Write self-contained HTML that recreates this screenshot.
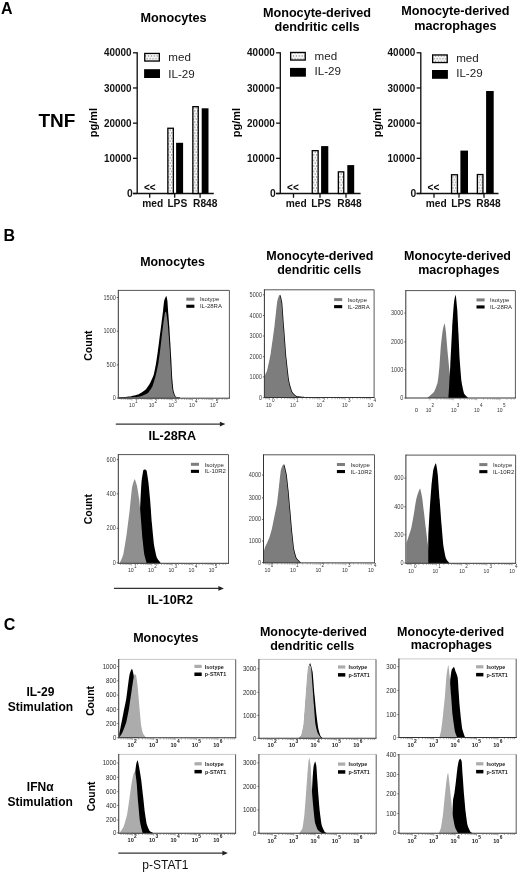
<!DOCTYPE html>
<html><head><meta charset="utf-8"><title>Figure</title>
<style>
html,body{margin:0;padding:0;background:#fff;overflow:hidden;width:520px;height:873px;}
svg{display:block;font-family:"Liberation Sans", Arial, sans-serif;}
</style></head>
<body>
<svg width="520" height="873" viewBox="0 0 520 873">
<defs>
<pattern id="dots" patternUnits="userSpaceOnUse" width="2.9" height="5.5">
<rect width="2.9" height="5.5" fill="#fbfbfb"/>
<circle cx="0.6" cy="0.9" r="0.62" fill="#5a5a5a"/>
<circle cx="2.05" cy="3.65" r="0.62" fill="#5a5a5a"/>
</pattern>
</defs>
<rect width="520" height="873" fill="#fff"/>
<text x="1" y="13.8" font-size="16" font-weight="bold" text-anchor="start" fill="#000" >A</text>
<text x="3.5" y="241.4" font-size="16" font-weight="bold" text-anchor="start" fill="#000" >B</text>
<text x="3.8" y="629.5" font-size="16" font-weight="bold" text-anchor="start" fill="#000" >C</text>
<text x="38.5" y="126.9" font-size="19" font-weight="bold" text-anchor="start" fill="#000" >TNF</text>
<text x="173.6" y="22.2" font-size="12.65" font-weight="bold" text-anchor="middle" fill="#000" >Monocytes</text>
<text transform="translate(96.99999999999999,122.5) rotate(-90)" font-size="11" font-weight="bold" text-anchor="middle">pg/ml</text>
<line x1="137.2" y1="52.199999999999996" x2="137.2" y2="194.1" stroke="#111" stroke-width="1.35"/>
<line x1="133.0" y1="193.5" x2="137.2" y2="193.5" stroke="#111" stroke-width="1.3"/>
<text x="126.90" y="197.10" font-size="10.3" font-weight="bold" fill="#111">0</text>
<line x1="133.0" y1="158.325" x2="137.2" y2="158.325" stroke="#111" stroke-width="1.3"/>
<text x="104.00" y="161.92" font-size="10.3" font-weight="bold" textLength="27.6" lengthAdjust="spacingAndGlyphs" fill="#111">10000</text>
<line x1="133.0" y1="123.15" x2="137.2" y2="123.15" stroke="#111" stroke-width="1.3"/>
<text x="104.00" y="126.75" font-size="10.3" font-weight="bold" textLength="27.6" lengthAdjust="spacingAndGlyphs" fill="#111">20000</text>
<line x1="133.0" y1="87.975" x2="137.2" y2="87.975" stroke="#111" stroke-width="1.3"/>
<text x="104.00" y="91.57" font-size="10.3" font-weight="bold" textLength="27.6" lengthAdjust="spacingAndGlyphs" fill="#111">30000</text>
<line x1="133.0" y1="52.80000000000001" x2="137.2" y2="52.80000000000001" stroke="#111" stroke-width="1.3"/>
<text x="104.00" y="56.40" font-size="10.3" font-weight="bold" textLength="27.6" lengthAdjust="spacingAndGlyphs" fill="#111">40000</text>
<line x1="133.0" y1="193.5" x2="213.8" y2="193.5" stroke="#111" stroke-width="1.3"/>
<line x1="149.7" y1="193.5" x2="149.7" y2="197.8" stroke="#111" stroke-width="1.3"/>
<text x="142.2" y="207.1" font-size="10.2" font-weight="bold" text-anchor="start" fill="#111" >med</text>
<line x1="174.7" y1="193.5" x2="174.7" y2="197.8" stroke="#111" stroke-width="1.3"/>
<text x="167.4" y="207.1" font-size="10.2" font-weight="bold" text-anchor="start" fill="#111" >LPS</text>
<line x1="200.1" y1="193.5" x2="200.1" y2="197.8" stroke="#111" stroke-width="1.3"/>
<text x="193.1" y="207.1" font-size="10.2" font-weight="bold" text-anchor="start" fill="#111" >R848</text>
<text x="149.79999999999998" y="191.2" font-size="10" font-weight="bold" text-anchor="middle" fill="#000" >&lt;&lt;</text>
<rect x="167.85" y="128.25" width="5.50" height="65.25" fill="url(#dots)" stroke="#000" stroke-width="1.3"/>
<rect x="176.10" y="142.80" width="7.00" height="50.70" fill="#000" stroke="none" stroke-width="0"/>
<rect x="192.85" y="106.65" width="5.40" height="86.85" fill="url(#dots)" stroke="#000" stroke-width="1.3"/>
<rect x="201.70" y="108.30" width="6.80" height="85.20" fill="#000" stroke="none" stroke-width="0"/>
<rect x="144.75" y="53.45" width="14.6" height="7.6" fill="url(#dots)" stroke="#000" stroke-width="1.3"/>
<rect x="144.10" y="69.2" width="15.9" height="8.8" fill="#000" stroke="none" stroke-width="0"/>
<text x="168.3" y="60.7" font-size="11.6" font-weight="normal" text-anchor="start" fill="#222" >med</text>
<text x="168.3" y="77.6" font-size="11.6" font-weight="normal" text-anchor="start" fill="#222" >IL-29</text>
<text x="317.0" y="16.8" font-size="12.65" font-weight="bold" text-anchor="middle" fill="#000" >Monocyte-derived</text>
<text x="317.0" y="31.0" font-size="12.65" font-weight="bold" text-anchor="middle" fill="#000" >dendritic cells</text>
<text transform="translate(240.10000000000002,122.5) rotate(-90)" font-size="11" font-weight="bold" text-anchor="middle">pg/ml</text>
<line x1="280.3" y1="52.199999999999996" x2="280.3" y2="194.1" stroke="#111" stroke-width="1.35"/>
<line x1="276.1" y1="193.5" x2="280.3" y2="193.5" stroke="#111" stroke-width="1.3"/>
<text x="270.00" y="197.10" font-size="10.3" font-weight="bold" fill="#111">0</text>
<line x1="276.1" y1="158.325" x2="280.3" y2="158.325" stroke="#111" stroke-width="1.3"/>
<text x="247.10" y="161.92" font-size="10.3" font-weight="bold" textLength="27.6" lengthAdjust="spacingAndGlyphs" fill="#111">10000</text>
<line x1="276.1" y1="123.15" x2="280.3" y2="123.15" stroke="#111" stroke-width="1.3"/>
<text x="247.10" y="126.75" font-size="10.3" font-weight="bold" textLength="27.6" lengthAdjust="spacingAndGlyphs" fill="#111">20000</text>
<line x1="276.1" y1="87.975" x2="280.3" y2="87.975" stroke="#111" stroke-width="1.3"/>
<text x="247.10" y="91.57" font-size="10.3" font-weight="bold" textLength="27.6" lengthAdjust="spacingAndGlyphs" fill="#111">30000</text>
<line x1="276.1" y1="52.80000000000001" x2="280.3" y2="52.80000000000001" stroke="#111" stroke-width="1.3"/>
<text x="247.10" y="56.40" font-size="10.3" font-weight="bold" textLength="27.6" lengthAdjust="spacingAndGlyphs" fill="#111">40000</text>
<line x1="276.1" y1="193.5" x2="360.6" y2="193.5" stroke="#111" stroke-width="1.3"/>
<line x1="293.5" y1="193.5" x2="293.5" y2="197.8" stroke="#111" stroke-width="1.3"/>
<text x="285.8" y="207.1" font-size="10.2" font-weight="bold" text-anchor="start" fill="#111" >med</text>
<line x1="320.0" y1="193.5" x2="320.0" y2="197.8" stroke="#111" stroke-width="1.3"/>
<text x="311.3" y="207.1" font-size="10.2" font-weight="bold" text-anchor="start" fill="#111" >LPS</text>
<line x1="346.0" y1="193.5" x2="346.0" y2="197.8" stroke="#111" stroke-width="1.3"/>
<text x="337.3" y="207.1" font-size="10.2" font-weight="bold" text-anchor="start" fill="#111" >R848</text>
<text x="292.90000000000003" y="191.2" font-size="10" font-weight="bold" text-anchor="middle" fill="#000" >&lt;&lt;</text>
<rect x="312.25" y="150.65" width="5.90" height="42.85" fill="url(#dots)" stroke="#000" stroke-width="1.3"/>
<rect x="321.10" y="146.10" width="7.20" height="47.40" fill="#000" stroke="none" stroke-width="0"/>
<rect x="338.35" y="171.85" width="5.40" height="21.65" fill="url(#dots)" stroke="#000" stroke-width="1.3"/>
<rect x="347.30" y="165.10" width="6.90" height="28.40" fill="#000" stroke="none" stroke-width="0"/>
<rect x="290.65" y="52.45" width="14.6" height="7.6" fill="url(#dots)" stroke="#000" stroke-width="1.3"/>
<rect x="290.00" y="67.9" width="15.9" height="8.8" fill="#000" stroke="none" stroke-width="0"/>
<text x="314.6" y="59.6" font-size="11.6" font-weight="normal" text-anchor="start" fill="#222" >med</text>
<text x="314.6" y="75.4" font-size="11.6" font-weight="normal" text-anchor="start" fill="#222" >IL-29</text>
<text x="455.4" y="15.4" font-size="12.65" font-weight="bold" text-anchor="middle" fill="#000" >Monocyte-derived</text>
<text x="455.4" y="29.6" font-size="12.65" font-weight="bold" text-anchor="middle" fill="#000" >macrophages</text>
<text transform="translate(380.6,122.5) rotate(-90)" font-size="11" font-weight="bold" text-anchor="middle">pg/ml</text>
<line x1="420.8" y1="52.199999999999996" x2="420.8" y2="194.1" stroke="#111" stroke-width="1.35"/>
<line x1="416.6" y1="193.5" x2="420.8" y2="193.5" stroke="#111" stroke-width="1.3"/>
<text x="410.50" y="197.10" font-size="10.3" font-weight="bold" fill="#111">0</text>
<line x1="416.6" y1="158.325" x2="420.8" y2="158.325" stroke="#111" stroke-width="1.3"/>
<text x="387.60" y="161.92" font-size="10.3" font-weight="bold" textLength="27.6" lengthAdjust="spacingAndGlyphs" fill="#111">10000</text>
<line x1="416.6" y1="123.15" x2="420.8" y2="123.15" stroke="#111" stroke-width="1.3"/>
<text x="387.60" y="126.75" font-size="10.3" font-weight="bold" textLength="27.6" lengthAdjust="spacingAndGlyphs" fill="#111">20000</text>
<line x1="416.6" y1="87.975" x2="420.8" y2="87.975" stroke="#111" stroke-width="1.3"/>
<text x="387.60" y="91.57" font-size="10.3" font-weight="bold" textLength="27.6" lengthAdjust="spacingAndGlyphs" fill="#111">30000</text>
<line x1="416.6" y1="52.80000000000001" x2="420.8" y2="52.80000000000001" stroke="#111" stroke-width="1.3"/>
<text x="387.60" y="56.40" font-size="10.3" font-weight="bold" textLength="27.6" lengthAdjust="spacingAndGlyphs" fill="#111">40000</text>
<line x1="416.6" y1="193.5" x2="498.5" y2="193.5" stroke="#111" stroke-width="1.3"/>
<line x1="434.0" y1="193.5" x2="434.0" y2="197.8" stroke="#111" stroke-width="1.3"/>
<text x="425.8" y="207.1" font-size="10.2" font-weight="bold" text-anchor="start" fill="#111" >med</text>
<line x1="459.0" y1="193.5" x2="459.0" y2="197.8" stroke="#111" stroke-width="1.3"/>
<text x="451.3" y="207.1" font-size="10.2" font-weight="bold" text-anchor="start" fill="#111" >LPS</text>
<line x1="484.0" y1="193.5" x2="484.0" y2="197.8" stroke="#111" stroke-width="1.3"/>
<text x="476.3" y="207.1" font-size="10.2" font-weight="bold" text-anchor="start" fill="#111" >R848</text>
<text x="433.40000000000003" y="191.2" font-size="10" font-weight="bold" text-anchor="middle" fill="#000" >&lt;&lt;</text>
<rect x="451.55" y="174.75" width="5.90" height="18.75" fill="url(#dots)" stroke="#000" stroke-width="1.3"/>
<rect x="460.40" y="150.60" width="7.60" height="42.90" fill="#000" stroke="none" stroke-width="0"/>
<rect x="477.35" y="174.55" width="5.60" height="18.95" fill="url(#dots)" stroke="#000" stroke-width="1.3"/>
<rect x="486.10" y="91.00" width="7.60" height="102.50" fill="#000" stroke="none" stroke-width="0"/>
<rect x="432.65" y="54.95" width="14.6" height="7.6" fill="url(#dots)" stroke="#000" stroke-width="1.3"/>
<rect x="432.00" y="70.0" width="15.9" height="8.8" fill="#000" stroke="none" stroke-width="0"/>
<text x="456.2" y="61.6" font-size="11.6" font-weight="normal" text-anchor="start" fill="#222" >med</text>
<text x="456.2" y="77.4" font-size="11.6" font-weight="normal" text-anchor="start" fill="#222" >IL-29</text>
<text x="172.5" y="265.8" font-size="12.4" font-weight="bold" text-anchor="middle" fill="#000" >Monocytes</text>
<text x="319.8" y="259.6" font-size="12.5" font-weight="bold" text-anchor="middle" fill="#000" >Monocyte-derived</text>
<text x="319.2" y="273.8" font-size="12.5" font-weight="bold" text-anchor="middle" fill="#000" >dendritic cells</text>
<text x="457.5" y="260.0" font-size="12.5" font-weight="bold" text-anchor="middle" fill="#000" >Monocyte-derived</text>
<text x="458.8" y="273.8" font-size="12.5" font-weight="bold" text-anchor="middle" fill="#000" >macrophages</text>
<path d="M119.00,398.20 L119.00,397.40 C119.88,397.32 127.85,396.77 129.50,396.50 C131.15,396.23 137.45,394.77 138.80,394.20 C140.15,393.62 144.74,390.56 145.70,389.60 C146.66,388.64 149.62,383.95 150.30,382.70 C150.98,381.45 153.32,376.24 153.80,374.60 C154.28,372.96 155.77,364.93 156.10,363.00 C156.43,361.07 157.53,353.42 157.80,351.50 C158.07,349.58 158.99,342.35 159.30,340.00 C159.61,337.65 161.18,325.77 161.50,323.30 C161.82,320.83 162.88,312.27 163.10,310.40 C163.32,308.52 163.93,302.00 164.20,300.80 C164.47,299.60 166.03,296.00 166.30,296.00 C166.57,296.00 167.23,299.33 167.40,300.80 C167.57,302.27 168.14,311.46 168.30,313.60 C168.46,315.74 169.13,324.09 169.30,326.50 C169.47,328.91 170.14,339.88 170.30,342.50 C170.46,345.12 171.02,354.88 171.20,358.00 C171.38,361.12 172.20,377.25 172.40,380.00 C172.60,382.75 173.32,389.62 173.60,391.00 C173.88,392.38 175.17,395.95 175.70,396.50 C176.23,397.05 179.64,397.51 180.00,397.60 L180.00,398.20 Z" fill="#000" stroke="none" stroke-width="0" stroke-linejoin="round"/>
<path d="M119.00,398.20 L119.00,397.80 C120.33,397.73 133.17,397.13 135.00,397.00 C136.83,396.87 139.92,396.53 141.00,396.20 C142.08,395.87 147.03,393.85 148.00,393.00 C148.97,392.15 151.93,387.53 152.60,386.00 C153.27,384.47 155.52,376.52 156.00,374.60 C156.48,372.68 158.07,364.93 158.40,363.00 C158.73,361.07 159.73,353.58 160.00,351.50 C160.27,349.42 161.32,340.35 161.60,338.00 C161.88,335.65 163.13,325.34 163.40,323.30 C163.67,321.26 164.63,314.47 164.80,313.50 C164.97,312.53 165.28,311.74 165.40,311.70 C165.53,311.66 166.12,312.14 166.30,313.00 C166.48,313.86 167.39,320.08 167.60,322.00 C167.81,323.92 168.62,333.67 168.80,336.00 C168.98,338.33 169.64,347.50 169.80,350.00 C169.96,352.50 170.53,363.17 170.70,366.00 C170.87,368.83 171.61,381.83 171.80,384.00 C171.99,386.17 172.73,390.96 173.00,392.00 C173.27,393.04 174.50,396.02 175.00,396.50 C175.50,396.98 178.67,397.69 179.00,397.80 L179.00,398.20 Z" fill="#7d7d7d" stroke="none" stroke-width="0" stroke-linejoin="round"/>
<line x1="118.3" y1="290.4" x2="229.4" y2="290.4" stroke="#555" stroke-width="1"/>
<line x1="229.4" y1="290.4" x2="229.4" y2="398.2" stroke="#5a5a5a" stroke-width="1"/>
<line x1="118.3" y1="289.9" x2="118.3" y2="398.7" stroke="#333" stroke-width="1"/>
<line x1="118.3" y1="398.2" x2="229.9" y2="398.2" stroke="#333" stroke-width="1"/>
<text x="115.90" y="299.50" font-size="6.7" font-weight="normal" fill="#404040" text-anchor="end" textLength="12.40" lengthAdjust="spacingAndGlyphs">1500</text>
<line x1="116.8" y1="297.5" x2="118.3" y2="297.5" stroke="#444" stroke-width="0.8"/>
<text x="115.90" y="333.20" font-size="6.7" font-weight="normal" fill="#404040" text-anchor="end" textLength="12.40" lengthAdjust="spacingAndGlyphs">1000</text>
<line x1="116.8" y1="331.2" x2="118.3" y2="331.2" stroke="#444" stroke-width="0.8"/>
<text x="115.90" y="366.90" font-size="6.7" font-weight="normal" fill="#404040" text-anchor="end" textLength="9.30" lengthAdjust="spacingAndGlyphs">500</text>
<line x1="116.8" y1="364.9" x2="118.3" y2="364.9" stroke="#444" stroke-width="0.8"/>
<text x="115.90" y="400.10" font-size="6.7" font-weight="normal" fill="#404040" text-anchor="end" textLength="3.10" lengthAdjust="spacingAndGlyphs">0</text>
<line x1="116.8" y1="398.1" x2="118.3" y2="398.1" stroke="#444" stroke-width="0.8"/>
<rect x="186.3" y="297.7" width="8.1" height="3.0" fill="#7d7d7d" stroke="none" stroke-width="0"/>
<text x="199.9" y="301.4" font-size="6.0" font-weight="normal" text-anchor="start" fill="#2a2a2a" >Isotype</text>
<rect x="186.3" y="304.7" width="8.1" height="3.1" fill="#000" stroke="none" stroke-width="0"/>
<text x="199.9" y="308.3" font-size="6.0" font-weight="normal" text-anchor="start" fill="#2a2a2a" >IL-28RA</text>
<path d="M121.34,398.7v1.2 M123.86,398.7v1.2 M125.82,398.7v1.2 M127.42,398.7v1.2 M128.77,398.7v1.2 M129.94,398.7v1.2 M130.98,398.7v1.2 M131.90,398.7v1.8 M137.98,398.7v1.2 M141.54,398.7v1.2 M144.06,398.7v1.2 M146.02,398.7v1.2 M147.62,398.7v1.2 M148.97,398.7v1.2 M150.14,398.7v1.2 M151.18,398.7v1.2 M152.10,398.7v1.8 M158.18,398.7v1.2 M161.74,398.7v1.2 M164.26,398.7v1.2 M166.22,398.7v1.2 M167.82,398.7v1.2 M169.17,398.7v1.2 M170.34,398.7v1.2 M171.38,398.7v1.2 M172.30,398.7v1.8 M178.38,398.7v1.2 M181.94,398.7v1.2 M184.46,398.7v1.2 M186.42,398.7v1.2 M188.02,398.7v1.2 M189.37,398.7v1.2 M190.54,398.7v1.2 M191.58,398.7v1.2 M192.50,398.7v1.8 M198.58,398.7v1.2 M202.14,398.7v1.2 M204.66,398.7v1.2 M206.62,398.7v1.2 M208.22,398.7v1.2 M209.57,398.7v1.2 M210.74,398.7v1.2 M211.78,398.7v1.2 M212.70,398.7v1.8 M218.78,398.7v1.2 M222.34,398.7v1.2 M224.86,398.7v1.2 M226.82,398.7v1.2" stroke="#777" stroke-width="0.6" fill="none"/>
<text x="129.10" y="407.2" font-size="6.0" font-weight="normal" fill="#333" textLength="5.6" lengthAdjust="spacingAndGlyphs">10</text>
<text x="135.00" y="402.70" font-size="4.60" font-weight="normal" fill="#333">1</text>
<text x="148.70" y="407.2" font-size="6.0" font-weight="normal" fill="#333" textLength="5.6" lengthAdjust="spacingAndGlyphs">10</text>
<text x="154.60" y="402.70" font-size="4.60" font-weight="normal" fill="#333">2</text>
<text x="168.40" y="407.2" font-size="6.0" font-weight="normal" fill="#333" textLength="5.6" lengthAdjust="spacingAndGlyphs">10</text>
<text x="174.30" y="402.70" font-size="4.60" font-weight="normal" fill="#333">3</text>
<text x="189.10" y="407.2" font-size="6.0" font-weight="normal" fill="#333" textLength="5.6" lengthAdjust="spacingAndGlyphs">10</text>
<text x="195.00" y="402.70" font-size="4.60" font-weight="normal" fill="#333">4</text>
<text x="209.90" y="407.2" font-size="6.0" font-weight="normal" fill="#333" textLength="5.6" lengthAdjust="spacingAndGlyphs">10</text>
<text x="215.80" y="402.70" font-size="4.60" font-weight="normal" fill="#333">5</text>
<text transform="translate(91.9,345.6) rotate(-90)" font-size="10.5" font-weight="bold" text-anchor="middle">Count</text>
<line x1="115.8" y1="424.1" x2="220.4" y2="424.1" stroke="#333" stroke-width="1.3"/>
<path d="M219.9,421.70000000000005 L225.4,424.1 L219.9,426.5 Z" fill="#222"/>
<text x="172.2" y="439.9" font-size="12.6" font-weight="bold" text-anchor="middle" fill="#000" >IL-28RA</text>
<path d="M265.30,397.50 L265.30,377.70 C265.38,377.32 266.10,373.78 266.30,373.20 C266.50,372.62 267.27,372.41 267.70,370.70 C268.13,368.99 270.87,356.51 271.50,352.70 C272.13,348.89 274.78,329.20 275.30,325.00 C275.82,320.80 277.40,304.82 277.80,302.30 C278.20,299.78 279.73,294.70 280.10,294.70 C280.47,294.70 281.87,299.57 282.20,302.30 C282.53,305.03 283.73,322.77 284.10,327.50 C284.47,332.23 286.18,354.59 286.60,359.00 C287.02,363.41 288.62,377.67 289.10,380.40 C289.57,383.12 291.67,390.39 292.30,391.70 C292.93,393.01 295.70,395.66 296.70,396.10 C297.70,396.54 303.67,396.93 304.30,397.00 L304.30,397.50 Z" fill="#000" stroke="none" stroke-width="0" stroke-linejoin="round"/>
<path d="M264.60,397.50 L264.60,378.00 C264.68,377.62 265.40,374.08 265.60,373.50 C265.80,372.92 266.57,372.71 267.00,371.00 C267.43,369.29 270.17,356.81 270.80,353.00 C271.43,349.19 274.08,329.50 274.60,325.30 C275.12,321.10 276.70,305.12 277.10,302.60 C277.50,300.08 279.03,295.00 279.40,295.00 C279.77,295.00 281.17,299.87 281.50,302.60 C281.83,305.33 283.03,323.07 283.40,327.80 C283.77,332.53 285.48,354.89 285.90,359.30 C286.32,363.71 287.92,377.97 288.40,380.70 C288.88,383.43 290.97,390.69 291.60,392.00 C292.23,393.31 295.00,395.96 296.00,396.40 C297.00,396.84 302.97,397.23 303.60,397.30 L303.60,397.50 Z" fill="#7d7d7d" stroke="none" stroke-width="0" stroke-linejoin="round"/>
<line x1="264.4" y1="289.8" x2="374.1" y2="289.8" stroke="#555" stroke-width="1"/>
<line x1="374.1" y1="289.8" x2="374.1" y2="397.5" stroke="#5a5a5a" stroke-width="1"/>
<line x1="264.4" y1="289.3" x2="264.4" y2="398.0" stroke="#333" stroke-width="1"/>
<line x1="264.4" y1="397.5" x2="374.6" y2="397.5" stroke="#333" stroke-width="1"/>
<text x="262.00" y="296.80" font-size="6.7" font-weight="normal" fill="#404040" text-anchor="end" textLength="12.40" lengthAdjust="spacingAndGlyphs">5000</text>
<line x1="262.9" y1="294.8" x2="264.4" y2="294.8" stroke="#444" stroke-width="0.8"/>
<text x="262.00" y="317.50" font-size="6.7" font-weight="normal" fill="#404040" text-anchor="end" textLength="12.40" lengthAdjust="spacingAndGlyphs">4000</text>
<line x1="262.9" y1="315.5" x2="264.4" y2="315.5" stroke="#444" stroke-width="0.8"/>
<text x="262.00" y="338.00" font-size="6.7" font-weight="normal" fill="#404040" text-anchor="end" textLength="12.40" lengthAdjust="spacingAndGlyphs">3000</text>
<line x1="262.9" y1="336.0" x2="264.4" y2="336.0" stroke="#444" stroke-width="0.8"/>
<text x="262.00" y="358.70" font-size="6.7" font-weight="normal" fill="#404040" text-anchor="end" textLength="12.40" lengthAdjust="spacingAndGlyphs">2000</text>
<line x1="262.9" y1="356.7" x2="264.4" y2="356.7" stroke="#444" stroke-width="0.8"/>
<text x="262.00" y="378.90" font-size="6.7" font-weight="normal" fill="#404040" text-anchor="end" textLength="12.40" lengthAdjust="spacingAndGlyphs">1000</text>
<line x1="262.9" y1="376.9" x2="264.4" y2="376.9" stroke="#444" stroke-width="0.8"/>
<text x="262.00" y="399.70" font-size="6.7" font-weight="normal" fill="#404040" text-anchor="end" textLength="3.10" lengthAdjust="spacingAndGlyphs">0</text>
<line x1="262.9" y1="397.7" x2="264.4" y2="397.7" stroke="#444" stroke-width="0.8"/>
<rect x="334.1" y="298.1" width="8.1" height="3.0" fill="#7d7d7d" stroke="none" stroke-width="0"/>
<text x="347.70000000000005" y="301.8" font-size="6.0" font-weight="normal" text-anchor="start" fill="#2a2a2a" >Isotype</text>
<rect x="334.1" y="305.1" width="8.1" height="3.1" fill="#000" stroke="none" stroke-width="0"/>
<text x="347.70000000000005" y="308.70000000000005" font-size="6.0" font-weight="normal" text-anchor="start" fill="#2a2a2a" >IL-28RA</text>
<path d="M265.60,398.0v1.2 M267.06,398.0v1.2 M268.35,398.0v1.2 M269.50,398.0v1.8 M277.09,398.0v1.2 M281.52,398.0v1.2 M284.67,398.0v1.2 M287.11,398.0v1.2 M289.11,398.0v1.2 M290.80,398.0v1.2 M292.26,398.0v1.2 M293.55,398.0v1.2 M294.70,398.0v1.8 M302.29,398.0v1.2 M306.72,398.0v1.2 M309.87,398.0v1.2 M312.31,398.0v1.2 M314.31,398.0v1.2 M316.00,398.0v1.2 M317.46,398.0v1.2 M318.75,398.0v1.2 M319.90,398.0v1.8 M327.49,398.0v1.2 M331.92,398.0v1.2 M335.07,398.0v1.2 M337.51,398.0v1.2 M339.51,398.0v1.2 M341.20,398.0v1.2 M342.66,398.0v1.2 M343.95,398.0v1.2 M345.10,398.0v1.8 M352.69,398.0v1.2 M357.12,398.0v1.2 M360.27,398.0v1.2 M362.71,398.0v1.2 M364.71,398.0v1.2 M366.40,398.0v1.2 M367.86,398.0v1.2 M369.15,398.0v1.2 M370.30,398.0v1.8" stroke="#777" stroke-width="0.6" fill="none"/>
<text x="266.00" y="406.7" font-size="6.0" font-weight="normal" fill="#333" textLength="5.6" lengthAdjust="spacingAndGlyphs">10</text>
<text x="271.90" y="402.20" font-size="4.60" font-weight="normal" fill="#333">0</text>
<text x="290.10" y="406.7" font-size="6.0" font-weight="normal" fill="#333" textLength="5.6" lengthAdjust="spacingAndGlyphs">10</text>
<text x="296.00" y="402.20" font-size="4.60" font-weight="normal" fill="#333">1</text>
<text x="316.40" y="406.7" font-size="6.0" font-weight="normal" fill="#333" textLength="5.6" lengthAdjust="spacingAndGlyphs">10</text>
<text x="322.30" y="402.20" font-size="4.60" font-weight="normal" fill="#333">2</text>
<text x="342.00" y="406.7" font-size="6.0" font-weight="normal" fill="#333" textLength="5.6" lengthAdjust="spacingAndGlyphs">10</text>
<text x="347.90" y="402.20" font-size="4.60" font-weight="normal" fill="#333">3</text>
<text x="367.60" y="406.7" font-size="6.0" font-weight="normal" fill="#333" textLength="5.6" lengthAdjust="spacingAndGlyphs">10</text>
<text x="373.50" y="402.20" font-size="4.60" font-weight="normal" fill="#333">4</text>
<path d="M427.60,398.00 L427.60,397.60 C428.12,397.14 433.06,393.40 433.90,392.10 C434.74,390.80 437.23,384.20 437.70,382.00 C438.17,379.80 439.24,368.64 439.50,365.70 C439.76,362.76 440.53,349.64 440.80,346.70 C441.07,343.76 442.38,332.34 442.70,330.40 C443.02,328.46 444.33,323.30 444.60,323.40 C444.87,323.50 445.64,329.13 445.90,331.60 C446.16,334.07 447.39,349.63 447.70,353.00 C448.01,356.37 449.31,369.08 449.60,372.00 C449.89,374.92 450.88,385.87 451.20,388.00 C451.52,390.13 453.22,396.80 453.40,397.60 L453.40,398.00 Z" fill="#7d7d7d" stroke="none" stroke-width="0" stroke-linejoin="round"/>
<path d="M448.40,398.00 L448.40,397.60 C448.47,396.55 449.04,387.66 449.20,385.00 C449.36,382.34 450.05,370.47 450.30,365.70 C450.55,360.93 451.89,333.06 452.20,327.80 C452.51,322.54 453.71,305.33 454.00,302.60 C454.29,299.87 455.43,294.48 455.70,295.00 C455.97,295.52 456.97,305.64 457.20,308.90 C457.43,312.16 458.29,329.89 458.50,334.10 C458.71,338.31 459.44,355.41 459.70,359.40 C459.96,363.39 461.23,379.17 461.60,382.00 C461.97,384.83 463.58,392.10 464.10,393.40 C464.62,394.70 467.58,397.25 467.90,397.60 L467.90,398.00 Z" fill="#000" stroke="none" stroke-width="0" stroke-linejoin="round"/>
<line x1="405.8" y1="290.6" x2="515.4" y2="290.6" stroke="#555" stroke-width="1"/>
<line x1="515.4" y1="290.6" x2="515.4" y2="398.0" stroke="#5a5a5a" stroke-width="1"/>
<line x1="405.8" y1="290.1" x2="405.8" y2="398.5" stroke="#333" stroke-width="1"/>
<line x1="405.8" y1="398.0" x2="515.9" y2="398.0" stroke="#333" stroke-width="1"/>
<text x="403.40" y="315.10" font-size="6.7" font-weight="normal" fill="#404040" text-anchor="end" textLength="12.40" lengthAdjust="spacingAndGlyphs">3000</text>
<line x1="404.3" y1="313.1" x2="405.8" y2="313.1" stroke="#444" stroke-width="0.8"/>
<text x="403.40" y="343.90" font-size="6.7" font-weight="normal" fill="#404040" text-anchor="end" textLength="12.40" lengthAdjust="spacingAndGlyphs">2000</text>
<line x1="404.3" y1="341.9" x2="405.8" y2="341.9" stroke="#444" stroke-width="0.8"/>
<text x="403.40" y="371.70" font-size="6.7" font-weight="normal" fill="#404040" text-anchor="end" textLength="12.40" lengthAdjust="spacingAndGlyphs">1000</text>
<line x1="404.3" y1="369.7" x2="405.8" y2="369.7" stroke="#444" stroke-width="0.8"/>
<text x="403.40" y="400.00" font-size="6.7" font-weight="normal" fill="#404040" text-anchor="end" textLength="3.10" lengthAdjust="spacingAndGlyphs">0</text>
<line x1="404.3" y1="398.0" x2="405.8" y2="398.0" stroke="#444" stroke-width="0.8"/>
<rect x="476.5" y="298.4" width="8.1" height="3.0" fill="#7d7d7d" stroke="none" stroke-width="0"/>
<text x="490.1" y="302.09999999999997" font-size="6.0" font-weight="normal" text-anchor="start" fill="#2a2a2a" >Isotype</text>
<rect x="476.5" y="305.4" width="8.1" height="3.1" fill="#000" stroke="none" stroke-width="0"/>
<text x="490.1" y="309.0" font-size="6.0" font-weight="normal" text-anchor="start" fill="#2a2a2a" >IL-28RA</text>
<path d="M429.80,398.5v1.8 M436.84,398.5v1.2 M440.96,398.5v1.2 M443.89,398.5v1.2 M446.16,398.5v1.2 M448.01,398.5v1.2 M449.58,398.5v1.2 M450.93,398.5v1.2 M452.13,398.5v1.2 M453.20,398.5v1.8 M460.24,398.5v1.2 M464.36,398.5v1.2 M467.29,398.5v1.2 M469.56,398.5v1.2 M471.41,398.5v1.2 M472.98,398.5v1.2 M474.33,398.5v1.2 M475.53,398.5v1.2 M476.60,398.5v1.8 M483.64,398.5v1.2 M487.76,398.5v1.2 M490.69,398.5v1.2 M492.96,398.5v1.2 M494.81,398.5v1.2 M496.38,398.5v1.2 M497.73,398.5v1.2 M498.93,398.5v1.2 M500.00,398.5v1.8 M507.04,398.5v1.2 M511.16,398.5v1.2 M514.09,398.5v1.2" stroke="#777" stroke-width="0.6" fill="none"/>
<text x="416.3" y="411.6" font-size="6.0" font-weight="normal" text-anchor="middle" fill="#333" >0</text>
<text x="425.70" y="411.9" font-size="6.0" font-weight="normal" fill="#333" textLength="5.6" lengthAdjust="spacingAndGlyphs">10</text>
<text x="431.60" y="407.40" font-size="4.60" font-weight="normal" fill="#333">2</text>
<text x="450.90" y="411.9" font-size="6.0" font-weight="normal" fill="#333" textLength="5.6" lengthAdjust="spacingAndGlyphs">10</text>
<text x="456.80" y="407.40" font-size="4.60" font-weight="normal" fill="#333">3</text>
<text x="474.00" y="411.9" font-size="6.0" font-weight="normal" fill="#333" textLength="5.6" lengthAdjust="spacingAndGlyphs">10</text>
<text x="479.90" y="407.40" font-size="4.60" font-weight="normal" fill="#333">4</text>
<text x="497.00" y="411.9" font-size="6.0" font-weight="normal" fill="#333" textLength="5.6" lengthAdjust="spacingAndGlyphs">10</text>
<text x="502.90" y="407.40" font-size="4.60" font-weight="normal" fill="#333">5</text>
<path d="M134.50,563.30 L134.50,562.60 C134.75,561.13 137.08,548.55 137.50,545.00 C137.92,541.45 139.25,523.75 139.50,520.00 C139.75,516.25 140.33,503.15 140.50,500.00 C140.67,496.85 141.28,484.64 141.50,482.20 C141.72,479.76 142.94,471.75 143.20,470.70 C143.46,469.65 144.32,469.60 144.60,469.60 C144.88,469.60 146.28,469.65 146.60,470.70 C146.92,471.75 148.11,479.81 148.40,482.20 C148.69,484.59 149.82,496.06 150.10,499.40 C150.38,502.74 151.47,518.48 151.80,522.30 C152.13,526.12 153.67,542.24 154.10,545.20 C154.53,548.16 156.38,556.35 156.90,557.80 C157.43,559.25 160.11,562.20 160.40,562.60 L160.40,563.30 Z" fill="#000" stroke="none" stroke-width="0" stroke-linejoin="round"/>
<path d="M120.00,563.30 L120.00,562.60 C120.28,561.91 122.74,556.71 123.30,554.30 C123.86,551.89 126.17,537.33 126.70,533.70 C127.23,530.08 129.16,514.62 129.60,510.80 C130.04,506.98 131.58,490.52 132.00,487.90 C132.42,485.27 134.19,479.49 134.60,479.30 C135.01,479.11 136.52,483.93 136.90,485.60 C137.28,487.28 138.92,497.30 139.20,499.40 C139.48,501.50 140.02,507.46 140.30,510.80 C140.58,514.14 142.27,535.88 142.60,539.50 C142.93,543.12 143.98,552.38 144.30,554.30 C144.62,556.22 146.32,561.91 146.50,562.60 L146.50,563.30 Z" fill="#8f8f8f" stroke="none" stroke-width="0" stroke-linejoin="round"/>
<line x1="118.3" y1="454.6" x2="228.5" y2="454.6" stroke="#555" stroke-width="1"/>
<line x1="228.5" y1="454.6" x2="228.5" y2="563.3" stroke="#5a5a5a" stroke-width="1"/>
<line x1="118.3" y1="454.1" x2="118.3" y2="563.8" stroke="#333" stroke-width="1"/>
<line x1="118.3" y1="563.3" x2="229.0" y2="563.3" stroke="#333" stroke-width="1"/>
<text x="115.90" y="461.60" font-size="6.7" font-weight="normal" fill="#404040" text-anchor="end" textLength="9.30" lengthAdjust="spacingAndGlyphs">600</text>
<line x1="116.8" y1="459.6" x2="118.3" y2="459.6" stroke="#444" stroke-width="0.8"/>
<text x="115.90" y="495.80" font-size="6.7" font-weight="normal" fill="#404040" text-anchor="end" textLength="9.30" lengthAdjust="spacingAndGlyphs">400</text>
<line x1="116.8" y1="493.8" x2="118.3" y2="493.8" stroke="#444" stroke-width="0.8"/>
<text x="115.90" y="530.30" font-size="6.7" font-weight="normal" fill="#404040" text-anchor="end" textLength="9.30" lengthAdjust="spacingAndGlyphs">200</text>
<line x1="116.8" y1="528.3" x2="118.3" y2="528.3" stroke="#444" stroke-width="0.8"/>
<text x="115.90" y="564.80" font-size="6.7" font-weight="normal" fill="#404040" text-anchor="end" textLength="3.10" lengthAdjust="spacingAndGlyphs">0</text>
<line x1="116.8" y1="562.8" x2="118.3" y2="562.8" stroke="#444" stroke-width="0.8"/>
<rect x="190.9" y="462.8" width="8.1" height="3.0" fill="#7d7d7d" stroke="none" stroke-width="0"/>
<text x="204.5" y="466.5" font-size="6.0" font-weight="normal" text-anchor="start" fill="#2a2a2a" >Isotype</text>
<rect x="190.9" y="469.8" width="8.1" height="3.1" fill="#000" stroke="none" stroke-width="0"/>
<text x="204.5" y="473.40000000000003" font-size="6.0" font-weight="normal" text-anchor="start" fill="#2a2a2a" >IL-10R2</text>
<path d="M120.58,563.8v1.2 M123.14,563.8v1.2 M125.13,563.8v1.2 M126.75,563.8v1.2 M128.12,563.8v1.2 M129.31,563.8v1.2 M130.36,563.8v1.2 M131.30,563.8v1.8 M137.47,563.8v1.2 M141.08,563.8v1.2 M143.64,563.8v1.2 M145.63,563.8v1.2 M147.25,563.8v1.2 M148.62,563.8v1.2 M149.81,563.8v1.2 M150.86,563.8v1.2 M151.80,563.8v1.8 M157.97,563.8v1.2 M161.58,563.8v1.2 M164.14,563.8v1.2 M166.13,563.8v1.2 M167.75,563.8v1.2 M169.12,563.8v1.2 M170.31,563.8v1.2 M171.36,563.8v1.2 M172.30,563.8v1.8 M178.47,563.8v1.2 M182.08,563.8v1.2 M184.64,563.8v1.2 M186.63,563.8v1.2 M188.25,563.8v1.2 M189.62,563.8v1.2 M190.81,563.8v1.2 M191.86,563.8v1.2 M192.80,563.8v1.8 M198.97,563.8v1.2 M202.58,563.8v1.2 M205.14,563.8v1.2 M207.13,563.8v1.2 M208.75,563.8v1.2 M210.12,563.8v1.2 M211.31,563.8v1.2 M212.36,563.8v1.2 M213.30,563.8v1.8 M219.47,563.8v1.2 M223.08,563.8v1.2 M225.64,563.8v1.2" stroke="#777" stroke-width="0.6" fill="none"/>
<text x="127.90" y="572.4" font-size="6.0" font-weight="normal" fill="#333" textLength="5.8" lengthAdjust="spacingAndGlyphs">10</text>
<text x="134.00" y="567.60" font-size="4.60" font-weight="normal" fill="#333">1</text>
<text x="148.10" y="572.4" font-size="6.0" font-weight="normal" fill="#333" textLength="5.8" lengthAdjust="spacingAndGlyphs">10</text>
<text x="154.20" y="567.60" font-size="4.60" font-weight="normal" fill="#333">2</text>
<text x="168.40" y="572.4" font-size="6.0" font-weight="normal" fill="#333" textLength="5.8" lengthAdjust="spacingAndGlyphs">10</text>
<text x="174.50" y="567.60" font-size="4.60" font-weight="normal" fill="#333">3</text>
<text x="188.60" y="572.4" font-size="6.0" font-weight="normal" fill="#333" textLength="5.8" lengthAdjust="spacingAndGlyphs">10</text>
<text x="194.70" y="567.60" font-size="4.60" font-weight="normal" fill="#333">4</text>
<text x="208.70" y="572.4" font-size="6.0" font-weight="normal" fill="#333" textLength="5.8" lengthAdjust="spacingAndGlyphs">10</text>
<text x="214.80" y="567.60" font-size="4.60" font-weight="normal" fill="#333">5</text>
<text transform="translate(91.9,509.2) rotate(-90)" font-size="10.5" font-weight="bold" text-anchor="middle">Count</text>
<line x1="114.0" y1="588.4" x2="218.9" y2="588.4" stroke="#333" stroke-width="1.3"/>
<path d="M218.4,586.0 L223.9,588.4 L218.4,590.8 Z" fill="#222"/>
<text x="170.2" y="603.8" font-size="12.6" font-weight="bold" text-anchor="middle" fill="#000" >IL-10R2</text>
<path d="M264.50,562.90 L264.50,551.80 C264.61,551.38 265.53,547.53 265.80,546.80 C266.07,546.07 267.32,543.84 267.70,543.00 C268.07,542.16 269.88,537.97 270.30,536.70 C270.73,535.43 272.38,529.58 272.80,527.80 C273.22,526.02 274.88,517.39 275.30,515.30 C275.72,513.21 277.43,505.12 277.80,502.70 C278.17,500.28 279.38,489.03 279.70,486.30 C280.02,483.57 281.23,471.74 281.60,469.90 C281.97,468.06 283.68,463.88 284.10,464.20 C284.52,464.52 286.23,471.54 286.60,473.70 C286.97,475.86 288.18,486.95 288.50,490.10 C288.82,493.25 290.08,507.93 290.40,511.50 C290.72,515.07 291.98,529.75 292.30,532.90 C292.62,536.05 293.83,547.20 294.20,549.30 C294.57,551.40 296.18,557.02 296.70,558.10 C297.22,559.17 300.18,561.86 300.50,562.20 L300.50,562.90 Z" fill="#000" stroke="none" stroke-width="0" stroke-linejoin="round"/>
<path d="M263.80,562.90 L263.80,552.00 C263.91,551.58 264.83,547.73 265.10,547.00 C265.37,546.27 266.62,544.04 267.00,543.20 C267.38,542.36 269.18,538.17 269.60,536.90 C270.03,535.63 271.68,529.78 272.10,528.00 C272.52,526.22 274.18,517.59 274.60,515.50 C275.02,513.41 276.73,505.32 277.10,502.90 C277.47,500.48 278.68,489.23 279.00,486.50 C279.32,483.77 280.53,471.94 280.90,470.10 C281.27,468.26 282.98,464.08 283.40,464.40 C283.82,464.72 285.53,471.74 285.90,473.90 C286.27,476.06 287.48,487.15 287.80,490.30 C288.12,493.45 289.38,508.13 289.70,511.70 C290.02,515.27 291.28,529.95 291.60,533.10 C291.92,536.25 293.13,547.40 293.50,549.50 C293.87,551.60 295.48,557.22 296.00,558.30 C296.52,559.38 299.48,562.06 299.80,562.40 L299.80,562.90 Z" fill="#7d7d7d" stroke="none" stroke-width="0" stroke-linejoin="round"/>
<line x1="263.5" y1="454.8" x2="374.5" y2="454.8" stroke="#555" stroke-width="1"/>
<line x1="374.5" y1="454.8" x2="374.5" y2="562.9" stroke="#5a5a5a" stroke-width="1"/>
<line x1="263.5" y1="454.3" x2="263.5" y2="563.4" stroke="#333" stroke-width="1"/>
<line x1="263.5" y1="562.9" x2="375.0" y2="562.9" stroke="#333" stroke-width="1"/>
<text x="261.10" y="477.00" font-size="6.7" font-weight="normal" fill="#404040" text-anchor="end" textLength="12.40" lengthAdjust="spacingAndGlyphs">4000</text>
<line x1="262.0" y1="475.0" x2="263.5" y2="475.0" stroke="#444" stroke-width="0.8"/>
<text x="261.10" y="499.90" font-size="6.7" font-weight="normal" fill="#404040" text-anchor="end" textLength="12.40" lengthAdjust="spacingAndGlyphs">3000</text>
<line x1="262.0" y1="497.9" x2="263.5" y2="497.9" stroke="#444" stroke-width="0.8"/>
<text x="261.10" y="521.40" font-size="6.7" font-weight="normal" fill="#404040" text-anchor="end" textLength="12.40" lengthAdjust="spacingAndGlyphs">2000</text>
<line x1="262.0" y1="519.4" x2="263.5" y2="519.4" stroke="#444" stroke-width="0.8"/>
<text x="261.10" y="543.00" font-size="6.7" font-weight="normal" fill="#404040" text-anchor="end" textLength="12.40" lengthAdjust="spacingAndGlyphs">1000</text>
<line x1="262.0" y1="541.0" x2="263.5" y2="541.0" stroke="#444" stroke-width="0.8"/>
<text x="261.10" y="564.60" font-size="6.7" font-weight="normal" fill="#404040" text-anchor="end" textLength="3.10" lengthAdjust="spacingAndGlyphs">0</text>
<line x1="262.0" y1="562.6" x2="263.5" y2="562.6" stroke="#444" stroke-width="0.8"/>
<rect x="336.9" y="463.0" width="8.1" height="3.0" fill="#7d7d7d" stroke="none" stroke-width="0"/>
<text x="350.5" y="466.7" font-size="6.0" font-weight="normal" text-anchor="start" fill="#2a2a2a" >Isotype</text>
<rect x="336.9" y="470.0" width="8.1" height="3.1" fill="#000" stroke="none" stroke-width="0"/>
<text x="350.5" y="473.6" font-size="6.0" font-weight="normal" text-anchor="start" fill="#2a2a2a" >IL-10R2</text>
<path d="M265.77,563.4v1.2 M267.24,563.4v1.2 M268.54,563.4v1.2 M269.70,563.4v1.8 M277.35,563.4v1.2 M281.82,563.4v1.2 M284.99,563.4v1.2 M287.45,563.4v1.2 M289.47,563.4v1.2 M291.17,563.4v1.2 M292.64,563.4v1.2 M293.94,563.4v1.2 M295.10,563.4v1.8 M302.75,563.4v1.2 M307.22,563.4v1.2 M310.39,563.4v1.2 M312.85,563.4v1.2 M314.87,563.4v1.2 M316.57,563.4v1.2 M318.04,563.4v1.2 M319.34,563.4v1.2 M320.50,563.4v1.8 M328.15,563.4v1.2 M332.62,563.4v1.2 M335.79,563.4v1.2 M338.25,563.4v1.2 M340.27,563.4v1.2 M341.97,563.4v1.2 M343.44,563.4v1.2 M344.74,563.4v1.2 M345.90,563.4v1.8 M353.55,563.4v1.2 M358.02,563.4v1.2 M361.19,563.4v1.2 M363.65,563.4v1.2 M365.67,563.4v1.2 M367.37,563.4v1.2 M368.84,563.4v1.2 M370.14,563.4v1.2 M371.30,563.4v1.8" stroke="#777" stroke-width="0.6" fill="none"/>
<text x="264.60" y="571.8" font-size="6.0" font-weight="normal" fill="#333" textLength="5.8" lengthAdjust="spacingAndGlyphs">10</text>
<text x="270.70" y="567.00" font-size="4.60" font-weight="normal" fill="#333">0</text>
<text x="290.00" y="571.8" font-size="6.0" font-weight="normal" fill="#333" textLength="5.8" lengthAdjust="spacingAndGlyphs">10</text>
<text x="296.10" y="567.00" font-size="4.60" font-weight="normal" fill="#333">1</text>
<text x="315.40" y="571.8" font-size="6.0" font-weight="normal" fill="#333" textLength="5.8" lengthAdjust="spacingAndGlyphs">10</text>
<text x="321.50" y="567.00" font-size="4.60" font-weight="normal" fill="#333">2</text>
<text x="341.90" y="571.8" font-size="6.0" font-weight="normal" fill="#333" textLength="5.8" lengthAdjust="spacingAndGlyphs">10</text>
<text x="348.00" y="567.00" font-size="4.60" font-weight="normal" fill="#333">3</text>
<text x="367.90" y="571.8" font-size="6.0" font-weight="normal" fill="#333" textLength="5.8" lengthAdjust="spacingAndGlyphs">10</text>
<text x="374.00" y="567.00" font-size="4.60" font-weight="normal" fill="#333">4</text>
<path d="M406.50,563.30 L406.50,543.20 C406.63,542.78 407.70,539.37 408.10,538.10 C408.50,536.83 410.82,529.99 411.30,528.00 C411.78,526.01 413.38,516.61 413.80,514.20 C414.22,511.79 415.93,500.88 416.30,499.10 C416.67,497.32 417.88,493.69 418.20,492.80 C418.52,491.91 419.78,488.08 420.10,488.40 C420.42,488.72 421.68,494.66 422.00,496.60 C422.32,498.54 423.58,509.08 423.90,511.70 C424.22,514.32 425.48,525.38 425.80,528.00 C426.12,530.62 427.33,540.88 427.70,543.20 C428.07,545.52 429.68,554.17 430.20,555.80 C430.72,557.43 433.68,562.22 434.00,562.80 L434.00,563.30 Z" fill="#7d7d7d" stroke="none" stroke-width="0" stroke-linejoin="round"/>
<path d="M428.30,563.30 L428.30,562.80 C428.30,560.64 428.19,541.16 428.30,536.90 C428.41,532.64 429.34,515.90 429.60,511.70 C429.86,507.50 431.09,489.97 431.40,486.50 C431.71,483.03 432.93,472.04 433.30,470.10 C433.68,468.16 435.53,462.88 435.90,463.20 C436.27,463.52 437.39,470.91 437.70,473.90 C438.01,476.89 439.28,494.90 439.60,499.10 C439.92,503.30 441.18,520.42 441.50,524.30 C441.82,528.18 443.03,542.87 443.40,545.70 C443.77,548.53 445.42,556.88 445.90,558.30 C446.38,559.72 448.83,562.42 449.10,562.80 L449.10,563.30 Z" fill="#000" stroke="none" stroke-width="0" stroke-linejoin="round"/>
<line x1="405.9" y1="455.1" x2="515.6" y2="455.1" stroke="#555" stroke-width="1"/>
<line x1="515.6" y1="455.1" x2="515.6" y2="563.3" stroke="#5a5a5a" stroke-width="1"/>
<line x1="405.9" y1="454.6" x2="405.9" y2="563.8" stroke="#333" stroke-width="1"/>
<line x1="405.9" y1="563.3" x2="516.1" y2="563.3" stroke="#333" stroke-width="1"/>
<text x="403.50" y="480.20" font-size="6.7" font-weight="normal" fill="#404040" text-anchor="end" textLength="9.30" lengthAdjust="spacingAndGlyphs">600</text>
<line x1="404.4" y1="478.2" x2="405.9" y2="478.2" stroke="#444" stroke-width="0.8"/>
<text x="403.50" y="508.80" font-size="6.7" font-weight="normal" fill="#404040" text-anchor="end" textLength="9.30" lengthAdjust="spacingAndGlyphs">400</text>
<line x1="404.4" y1="506.8" x2="405.9" y2="506.8" stroke="#444" stroke-width="0.8"/>
<text x="403.50" y="536.80" font-size="6.7" font-weight="normal" fill="#404040" text-anchor="end" textLength="9.30" lengthAdjust="spacingAndGlyphs">200</text>
<line x1="404.4" y1="534.8" x2="405.9" y2="534.8" stroke="#444" stroke-width="0.8"/>
<text x="403.50" y="565.00" font-size="6.7" font-weight="normal" fill="#404040" text-anchor="end" textLength="3.10" lengthAdjust="spacingAndGlyphs">0</text>
<line x1="404.4" y1="563.0" x2="405.9" y2="563.0" stroke="#444" stroke-width="0.8"/>
<rect x="479.3" y="463.1" width="8.1" height="3.0" fill="#7d7d7d" stroke="none" stroke-width="0"/>
<text x="492.90000000000003" y="466.8" font-size="6.0" font-weight="normal" text-anchor="start" fill="#2a2a2a" >Isotype</text>
<rect x="479.3" y="470.1" width="8.1" height="3.1" fill="#000" stroke="none" stroke-width="0"/>
<text x="492.90000000000003" y="473.70000000000005" font-size="6.0" font-weight="normal" text-anchor="start" fill="#2a2a2a" >IL-10R2</text>
<path d="M407.30,563.8v1.2 M408.76,563.8v1.2 M410.05,563.8v1.2 M411.20,563.8v1.8 M418.79,563.8v1.2 M423.22,563.8v1.2 M426.37,563.8v1.2 M428.81,563.8v1.2 M430.81,563.8v1.2 M432.50,563.8v1.2 M433.96,563.8v1.2 M435.25,563.8v1.2 M436.40,563.8v1.8 M443.99,563.8v1.2 M448.42,563.8v1.2 M451.57,563.8v1.2 M454.01,563.8v1.2 M456.01,563.8v1.2 M457.70,563.8v1.2 M459.16,563.8v1.2 M460.45,563.8v1.2 M461.60,563.8v1.8 M469.19,563.8v1.2 M473.62,563.8v1.2 M476.77,563.8v1.2 M479.21,563.8v1.2 M481.21,563.8v1.2 M482.90,563.8v1.2 M484.36,563.8v1.2 M485.65,563.8v1.2 M486.80,563.8v1.8 M494.39,563.8v1.2 M498.82,563.8v1.2 M501.97,563.8v1.2 M504.41,563.8v1.2 M506.41,563.8v1.2 M508.10,563.8v1.2 M509.56,563.8v1.2 M510.85,563.8v1.2 M512.00,563.8v1.8" stroke="#777" stroke-width="0.6" fill="none"/>
<text x="408.20" y="573.0" font-size="6.0" font-weight="normal" fill="#333" textLength="5.6" lengthAdjust="spacingAndGlyphs">10</text>
<text x="414.10" y="568.00" font-size="4.60" font-weight="normal" fill="#333">0</text>
<text x="432.40" y="573.0" font-size="6.0" font-weight="normal" fill="#333" textLength="5.6" lengthAdjust="spacingAndGlyphs">10</text>
<text x="438.30" y="568.00" font-size="4.60" font-weight="normal" fill="#333">1</text>
<text x="459.30" y="573.0" font-size="6.0" font-weight="normal" fill="#333" textLength="5.6" lengthAdjust="spacingAndGlyphs">10</text>
<text x="465.20" y="568.00" font-size="4.60" font-weight="normal" fill="#333">2</text>
<text x="483.60" y="573.0" font-size="6.0" font-weight="normal" fill="#333" textLength="5.6" lengthAdjust="spacingAndGlyphs">10</text>
<text x="489.50" y="568.00" font-size="4.60" font-weight="normal" fill="#333">3</text>
<text x="509.20" y="573.0" font-size="6.0" font-weight="normal" fill="#333" textLength="5.6" lengthAdjust="spacingAndGlyphs">10</text>
<text x="515.10" y="568.00" font-size="4.60" font-weight="normal" fill="#333">4</text>
<text x="165.8" y="641.5" font-size="12.5" font-weight="bold" text-anchor="middle" fill="#000" >Monocytes</text>
<text x="313.4" y="635.5" font-size="12.5" font-weight="bold" text-anchor="middle" fill="#000" >Monocyte-derived</text>
<text x="312.2" y="649.5" font-size="12.5" font-weight="bold" text-anchor="middle" fill="#000" >dendritic cells</text>
<text x="450.6" y="635.5" font-size="12.5" font-weight="bold" text-anchor="middle" fill="#000" >Monocyte-derived</text>
<text x="451.3" y="649.0" font-size="12.5" font-weight="bold" text-anchor="middle" fill="#000" >macrophages</text>
<text x="40.4" y="696.3" font-size="12.0" font-weight="bold" text-anchor="middle" fill="#000" >IL-29</text>
<text x="40.4" y="710.8" font-size="12.0" font-weight="bold" text-anchor="middle" fill="#000" >Stimulation</text>
<text x="40.2" y="790.8" font-size="12.0" font-weight="bold" text-anchor="middle" fill="#000" >IFNα</text>
<text x="40.2" y="805.6" font-size="12.0" font-weight="bold" text-anchor="middle" fill="#000" >Stimulation</text>
<path d="M119.20,737.80 L119.20,734.00 C119.32,733.44 120.25,729.06 120.60,727.30 C120.95,725.54 122.93,715.30 123.40,712.90 C123.88,710.50 125.86,701.24 126.30,698.50 C126.74,695.76 128.41,682.08 128.70,680.00 C128.99,677.92 129.59,674.33 129.80,673.50 C130.01,672.67 131.02,670.39 131.20,670.00 C131.38,669.61 131.85,668.63 132.00,668.80 C132.15,668.97 132.79,671.07 133.00,672.00 C133.21,672.93 134.21,677.67 134.50,680.00 C134.79,682.33 136.21,696.25 136.50,700.00 C136.79,703.75 137.79,721.88 138.00,725.00 C138.21,728.12 138.92,736.46 139.00,737.50 L139.00,737.80 Z" fill="#000" stroke="none" stroke-width="0" stroke-linejoin="round"/>
<path d="M119.50,737.80 L119.50,737.00 C119.72,736.67 121.64,734.21 122.20,733.00 C122.76,731.79 125.62,724.58 126.20,722.50 C126.78,720.42 128.62,710.81 129.10,708.00 C129.57,705.19 131.52,691.38 131.90,688.80 C132.28,686.22 133.45,678.23 133.70,677.00 C133.95,675.77 134.69,674.08 134.90,674.00 C135.11,673.92 135.99,675.17 136.20,676.00 C136.41,676.83 137.21,682.33 137.40,684.00 C137.59,685.67 138.32,694.00 138.50,696.00 C138.68,698.00 139.28,705.55 139.50,708.00 C139.72,710.45 140.91,723.27 141.20,725.40 C141.49,727.52 142.60,732.49 143.00,733.50 C143.40,734.51 145.75,737.17 146.00,737.50 L146.00,737.80 Z" fill="#acacac" stroke="none" stroke-width="0" stroke-linejoin="round"/>
<line x1="118.7" y1="659.4" x2="235.7" y2="659.4" stroke="#c8c8c8" stroke-width="1"/>
<line x1="235.7" y1="659.4" x2="235.7" y2="737.8" stroke="#5a5a5a" stroke-width="1"/>
<line x1="118.7" y1="658.9" x2="118.7" y2="738.3" stroke="#444" stroke-width="1.1"/>
<line x1="118.7" y1="737.8" x2="236.2" y2="737.8" stroke="#333" stroke-width="1.1"/>
<text x="116.30" y="668.80" font-size="6.7" font-weight="normal" fill="#2a2a2a" text-anchor="end" textLength="13.60" lengthAdjust="spacingAndGlyphs">1000</text>
<line x1="117.2" y1="666.5" x2="118.7" y2="666.5" stroke="#444" stroke-width="0.8"/>
<text x="116.30" y="683.10" font-size="6.7" font-weight="normal" fill="#2a2a2a" text-anchor="end" textLength="10.20" lengthAdjust="spacingAndGlyphs">800</text>
<line x1="117.2" y1="680.8" x2="118.7" y2="680.8" stroke="#444" stroke-width="0.8"/>
<text x="116.30" y="697.40" font-size="6.7" font-weight="normal" fill="#2a2a2a" text-anchor="end" textLength="10.20" lengthAdjust="spacingAndGlyphs">600</text>
<line x1="117.2" y1="695.1" x2="118.7" y2="695.1" stroke="#444" stroke-width="0.8"/>
<text x="116.30" y="711.70" font-size="6.7" font-weight="normal" fill="#2a2a2a" text-anchor="end" textLength="10.20" lengthAdjust="spacingAndGlyphs">400</text>
<line x1="117.2" y1="709.4" x2="118.7" y2="709.4" stroke="#444" stroke-width="0.8"/>
<text x="116.30" y="725.90" font-size="6.7" font-weight="normal" fill="#2a2a2a" text-anchor="end" textLength="10.20" lengthAdjust="spacingAndGlyphs">200</text>
<line x1="117.2" y1="723.6" x2="118.7" y2="723.6" stroke="#444" stroke-width="0.8"/>
<text x="116.30" y="740.10" font-size="6.7" font-weight="normal" fill="#2a2a2a" text-anchor="end" textLength="3.40" lengthAdjust="spacingAndGlyphs">0</text>
<line x1="117.2" y1="737.8" x2="118.7" y2="737.8" stroke="#444" stroke-width="0.8"/>
<rect x="194.4" y="664.8" width="7.3" height="3.2" fill="#acacac" stroke="none" stroke-width="0"/>
<text x="204.8" y="668.5" font-size="5.4" font-weight="bold" text-anchor="start" fill="#222" >Isotype</text>
<rect x="194.4" y="672.5" width="7.3" height="3.5" fill="#000" stroke="none" stroke-width="0"/>
<text x="204.8" y="676.3" font-size="5.4" font-weight="bold" text-anchor="start" fill="#222" >p-STAT1</text>
<path d="M121.11,738.3v1.2 M123.78,738.3v1.2 M125.86,738.3v1.2 M127.55,738.3v1.2 M128.99,738.3v1.2 M130.23,738.3v1.2 M131.32,738.3v1.2 M132.30,738.3v1.8 M138.74,738.3v1.2 M142.51,738.3v1.2 M145.18,738.3v1.2 M147.26,738.3v1.2 M148.95,738.3v1.2 M150.39,738.3v1.2 M151.63,738.3v1.2 M152.72,738.3v1.2 M153.70,738.3v1.8 M160.14,738.3v1.2 M163.91,738.3v1.2 M166.58,738.3v1.2 M168.66,738.3v1.2 M170.35,738.3v1.2 M171.79,738.3v1.2 M173.03,738.3v1.2 M174.12,738.3v1.2 M175.10,738.3v1.8 M181.54,738.3v1.2 M185.31,738.3v1.2 M187.98,738.3v1.2 M190.06,738.3v1.2 M191.75,738.3v1.2 M193.19,738.3v1.2 M194.43,738.3v1.2 M195.52,738.3v1.2 M196.50,738.3v1.8 M202.94,738.3v1.2 M206.71,738.3v1.2 M209.38,738.3v1.2 M211.46,738.3v1.2 M213.15,738.3v1.2 M214.59,738.3v1.2 M215.83,738.3v1.2 M216.92,738.3v1.2 M217.90,738.3v1.8 M224.34,738.3v1.2 M228.11,738.3v1.2 M230.78,738.3v1.2 M232.86,738.3v1.2 M234.55,738.3v1.2" stroke="#666" stroke-width="0.6" fill="none"/>
<text x="127.59" y="747.1" font-size="5.6" font-weight="bold" fill="#222">10</text>
<text x="134.11" y="743.10" font-size="4.90" font-weight="bold" fill="#222">2</text>
<text x="148.99" y="747.1" font-size="5.6" font-weight="bold" fill="#222">10</text>
<text x="155.51" y="743.10" font-size="4.90" font-weight="bold" fill="#222">3</text>
<text x="170.39" y="747.1" font-size="5.6" font-weight="bold" fill="#222">10</text>
<text x="176.91" y="743.10" font-size="4.90" font-weight="bold" fill="#222">4</text>
<text x="191.79" y="747.1" font-size="5.6" font-weight="bold" fill="#222">10</text>
<text x="198.31" y="743.10" font-size="4.90" font-weight="bold" fill="#222">5</text>
<text x="213.19" y="747.1" font-size="5.6" font-weight="bold" fill="#222">10</text>
<text x="219.71" y="743.10" font-size="4.90" font-weight="bold" fill="#222">6</text>
<text transform="translate(94.0,701.0) rotate(-90)" font-size="10.3" font-weight="bold" text-anchor="middle">Count</text>
<path d="M299.00,738.30 L299.00,738.00 C299.23,737.75 301.38,736.19 301.80,735.00 C302.23,733.81 303.79,726.20 304.10,723.70 C304.41,721.20 305.27,708.12 305.50,705.00 C305.73,701.88 306.65,689.28 306.90,686.20 C307.15,683.12 308.23,669.92 308.50,668.00 C308.77,666.08 309.86,662.86 310.20,663.20 C310.54,663.54 312.23,669.40 312.60,672.10 C312.97,674.80 314.28,692.08 314.60,695.60 C314.92,699.12 316.09,711.57 316.40,714.30 C316.71,717.03 317.96,726.59 318.30,728.40 C318.64,730.21 320.15,735.20 320.50,736.00 C320.85,736.80 322.33,737.83 322.50,738.00 L322.50,738.30 Z" fill="#000" stroke="none" stroke-width="0" stroke-linejoin="round"/>
<path d="M298.50,738.30 L298.50,738.00 C298.73,737.75 300.88,736.19 301.30,735.00 C301.73,733.81 303.29,726.20 303.60,723.70 C303.91,721.20 304.77,708.12 305.00,705.00 C305.23,701.88 306.17,689.18 306.40,686.20 C306.63,683.23 307.57,671.07 307.80,669.30 C308.03,667.53 308.93,665.16 309.20,665.00 C309.47,664.84 310.83,665.63 311.10,667.40 C311.38,669.17 312.27,683.07 312.50,686.20 C312.73,689.33 313.66,701.88 313.90,705.00 C314.14,708.12 315.08,721.36 315.40,723.70 C315.72,726.04 317.23,731.91 317.70,733.10 C318.17,734.29 320.73,737.59 321.00,738.00 L321.00,738.30 Z" fill="#acacac" stroke="none" stroke-width="0" stroke-linejoin="round"/>
<line x1="258.9" y1="659.4" x2="376.0" y2="659.4" stroke="#c8c8c8" stroke-width="1"/>
<line x1="376.0" y1="659.4" x2="376.0" y2="738.3" stroke="#5a5a5a" stroke-width="1"/>
<line x1="258.9" y1="658.9" x2="258.9" y2="738.8" stroke="#444" stroke-width="1.1"/>
<line x1="258.9" y1="738.3" x2="376.5" y2="738.3" stroke="#333" stroke-width="1.1"/>
<text x="256.50" y="671.10" font-size="6.7" font-weight="normal" fill="#2a2a2a" text-anchor="end" textLength="13.60" lengthAdjust="spacingAndGlyphs">3000</text>
<line x1="257.4" y1="668.8" x2="258.9" y2="668.8" stroke="#444" stroke-width="0.8"/>
<text x="256.50" y="694.60" font-size="6.7" font-weight="normal" fill="#2a2a2a" text-anchor="end" textLength="13.60" lengthAdjust="spacingAndGlyphs">2000</text>
<line x1="257.4" y1="692.3" x2="258.9" y2="692.3" stroke="#444" stroke-width="0.8"/>
<text x="256.50" y="717.70" font-size="6.7" font-weight="normal" fill="#2a2a2a" text-anchor="end" textLength="13.60" lengthAdjust="spacingAndGlyphs">1000</text>
<line x1="257.4" y1="715.4" x2="258.9" y2="715.4" stroke="#444" stroke-width="0.8"/>
<text x="256.50" y="740.60" font-size="6.7" font-weight="normal" fill="#2a2a2a" text-anchor="end" textLength="3.40" lengthAdjust="spacingAndGlyphs">0</text>
<line x1="257.4" y1="738.3" x2="258.9" y2="738.3" stroke="#444" stroke-width="0.8"/>
<rect x="338.0" y="665.4" width="7.3" height="3.2" fill="#acacac" stroke="none" stroke-width="0"/>
<text x="348.4" y="669.1" font-size="5.4" font-weight="bold" text-anchor="start" fill="#222" >Isotype</text>
<rect x="338.0" y="673.1" width="7.3" height="3.5" fill="#000" stroke="none" stroke-width="0"/>
<text x="348.4" y="676.9" font-size="5.4" font-weight="bold" text-anchor="start" fill="#222" >p-STAT1</text>
<path d="M261.11,738.8v1.2 M263.78,738.8v1.2 M265.86,738.8v1.2 M267.55,738.8v1.2 M268.99,738.8v1.2 M270.23,738.8v1.2 M271.32,738.8v1.2 M272.30,738.8v1.8 M278.74,738.8v1.2 M282.51,738.8v1.2 M285.18,738.8v1.2 M287.26,738.8v1.2 M288.95,738.8v1.2 M290.39,738.8v1.2 M291.63,738.8v1.2 M292.72,738.8v1.2 M293.70,738.8v1.8 M300.14,738.8v1.2 M303.91,738.8v1.2 M306.58,738.8v1.2 M308.66,738.8v1.2 M310.35,738.8v1.2 M311.79,738.8v1.2 M313.03,738.8v1.2 M314.12,738.8v1.2 M315.10,738.8v1.8 M321.54,738.8v1.2 M325.31,738.8v1.2 M327.98,738.8v1.2 M330.06,738.8v1.2 M331.75,738.8v1.2 M333.19,738.8v1.2 M334.43,738.8v1.2 M335.52,738.8v1.2 M336.50,738.8v1.8 M342.94,738.8v1.2 M346.71,738.8v1.2 M349.38,738.8v1.2 M351.46,738.8v1.2 M353.15,738.8v1.2 M354.59,738.8v1.2 M355.83,738.8v1.2 M356.92,738.8v1.2 M357.90,738.8v1.8 M364.34,738.8v1.2 M368.11,738.8v1.2 M370.78,738.8v1.2 M372.86,738.8v1.2 M374.55,738.8v1.2" stroke="#666" stroke-width="0.6" fill="none"/>
<text x="267.59" y="747.0" font-size="5.6" font-weight="bold" fill="#222">10</text>
<text x="274.11" y="743.00" font-size="4.90" font-weight="bold" fill="#222">2</text>
<text x="288.99" y="747.0" font-size="5.6" font-weight="bold" fill="#222">10</text>
<text x="295.51" y="743.00" font-size="4.90" font-weight="bold" fill="#222">3</text>
<text x="310.39" y="747.0" font-size="5.6" font-weight="bold" fill="#222">10</text>
<text x="316.91" y="743.00" font-size="4.90" font-weight="bold" fill="#222">4</text>
<text x="331.79" y="747.0" font-size="5.6" font-weight="bold" fill="#222">10</text>
<text x="338.31" y="743.00" font-size="4.90" font-weight="bold" fill="#222">5</text>
<text x="353.19" y="747.0" font-size="5.6" font-weight="bold" fill="#222">10</text>
<text x="359.71" y="743.00" font-size="4.90" font-weight="bold" fill="#222">6</text>
<path d="M446.50,737.50 L446.50,737.50 C446.67,735.62 448.25,718.54 448.50,715.00 C448.75,711.46 449.36,697.88 449.50,695.00 C449.64,692.12 450.02,682.57 450.20,680.50 C450.38,678.43 451.28,671.33 451.60,670.20 C451.92,669.07 453.65,666.74 454.00,666.90 C454.35,667.06 455.49,671.20 455.80,672.10 C456.11,673.00 457.47,676.13 457.70,677.70 C457.93,679.27 458.44,688.62 458.60,690.90 C458.76,693.17 459.40,702.66 459.60,705.00 C459.80,707.34 460.77,716.97 461.00,719.00 C461.23,721.03 462.05,727.86 462.40,729.40 C462.75,730.94 464.97,736.83 465.20,737.50 L465.20,737.50 Z" fill="#000" stroke="none" stroke-width="0" stroke-linejoin="round"/>
<path d="M439.40,737.50 L439.40,737.50 C439.56,736.83 440.99,731.33 441.30,729.40 C441.61,727.47 442.79,717.12 443.10,714.30 C443.41,711.48 444.73,698.73 445.00,695.60 C445.27,692.48 446.12,679.35 446.40,676.80 C446.67,674.25 448.03,665.00 448.30,665.00 C448.57,665.00 449.47,674.25 449.70,676.80 C449.93,679.35 450.87,692.48 451.10,695.60 C451.33,698.73 452.18,711.33 452.50,714.30 C452.82,717.27 454.51,729.27 454.90,731.20 C455.29,733.13 457.01,736.98 457.20,737.50 L457.20,737.50 Z" fill="#acacac" stroke="none" stroke-width="0" stroke-linejoin="round"/>
<line x1="398.9" y1="658.9" x2="516.2" y2="658.9" stroke="#c8c8c8" stroke-width="1"/>
<line x1="516.2" y1="658.9" x2="516.2" y2="737.5" stroke="#5a5a5a" stroke-width="1"/>
<line x1="398.9" y1="658.4" x2="398.9" y2="738.0" stroke="#444" stroke-width="1.1"/>
<line x1="398.9" y1="737.5" x2="516.7" y2="737.5" stroke="#333" stroke-width="1.1"/>
<text x="396.50" y="669.00" font-size="6.7" font-weight="normal" fill="#2a2a2a" text-anchor="end" textLength="10.20" lengthAdjust="spacingAndGlyphs">300</text>
<line x1="397.4" y1="666.7" x2="398.9" y2="666.7" stroke="#444" stroke-width="0.8"/>
<text x="396.50" y="692.70" font-size="6.7" font-weight="normal" fill="#2a2a2a" text-anchor="end" textLength="10.20" lengthAdjust="spacingAndGlyphs">200</text>
<line x1="397.4" y1="690.4" x2="398.9" y2="690.4" stroke="#444" stroke-width="0.8"/>
<text x="396.50" y="716.90" font-size="6.7" font-weight="normal" fill="#2a2a2a" text-anchor="end" textLength="10.20" lengthAdjust="spacingAndGlyphs">100</text>
<line x1="397.4" y1="714.6" x2="398.9" y2="714.6" stroke="#444" stroke-width="0.8"/>
<text x="396.50" y="739.90" font-size="6.7" font-weight="normal" fill="#2a2a2a" text-anchor="end" textLength="3.40" lengthAdjust="spacingAndGlyphs">0</text>
<line x1="397.4" y1="737.6" x2="398.9" y2="737.6" stroke="#444" stroke-width="0.8"/>
<rect x="476.1" y="665.2" width="7.3" height="3.2" fill="#acacac" stroke="none" stroke-width="0"/>
<text x="486.5" y="668.9000000000001" font-size="5.4" font-weight="bold" text-anchor="start" fill="#222" >Isotype</text>
<rect x="476.1" y="672.9000000000001" width="7.3" height="3.5" fill="#000" stroke="none" stroke-width="0"/>
<text x="486.5" y="676.7" font-size="5.4" font-weight="bold" text-anchor="start" fill="#222" >p-STAT1</text>
<path d="M401.11,738.0v1.2 M403.78,738.0v1.2 M405.86,738.0v1.2 M407.55,738.0v1.2 M408.99,738.0v1.2 M410.23,738.0v1.2 M411.32,738.0v1.2 M412.30,738.0v1.8 M418.74,738.0v1.2 M422.51,738.0v1.2 M425.18,738.0v1.2 M427.26,738.0v1.2 M428.95,738.0v1.2 M430.39,738.0v1.2 M431.63,738.0v1.2 M432.72,738.0v1.2 M433.70,738.0v1.8 M440.14,738.0v1.2 M443.91,738.0v1.2 M446.58,738.0v1.2 M448.66,738.0v1.2 M450.35,738.0v1.2 M451.79,738.0v1.2 M453.03,738.0v1.2 M454.12,738.0v1.2 M455.10,738.0v1.8 M461.54,738.0v1.2 M465.31,738.0v1.2 M467.98,738.0v1.2 M470.06,738.0v1.2 M471.75,738.0v1.2 M473.19,738.0v1.2 M474.43,738.0v1.2 M475.52,738.0v1.2 M476.50,738.0v1.8 M482.94,738.0v1.2 M486.71,738.0v1.2 M489.38,738.0v1.2 M491.46,738.0v1.2 M493.15,738.0v1.2 M494.59,738.0v1.2 M495.83,738.0v1.2 M496.92,738.0v1.2 M497.90,738.0v1.8 M504.34,738.0v1.2 M508.11,738.0v1.2 M510.78,738.0v1.2 M512.86,738.0v1.2 M514.55,738.0v1.2" stroke="#666" stroke-width="0.6" fill="none"/>
<text x="407.59" y="747.0" font-size="5.6" font-weight="bold" fill="#222">10</text>
<text x="414.11" y="743.00" font-size="4.90" font-weight="bold" fill="#222">2</text>
<text x="428.99" y="747.0" font-size="5.6" font-weight="bold" fill="#222">10</text>
<text x="435.51" y="743.00" font-size="4.90" font-weight="bold" fill="#222">3</text>
<text x="450.39" y="747.0" font-size="5.6" font-weight="bold" fill="#222">10</text>
<text x="456.91" y="743.00" font-size="4.90" font-weight="bold" fill="#222">4</text>
<text x="471.79" y="747.0" font-size="5.6" font-weight="bold" fill="#222">10</text>
<text x="478.31" y="743.00" font-size="4.90" font-weight="bold" fill="#222">5</text>
<text x="493.19" y="747.0" font-size="5.6" font-weight="bold" fill="#222">10</text>
<text x="499.71" y="743.00" font-size="4.90" font-weight="bold" fill="#222">6</text>
<path d="M131.50,833.30 L131.50,832.50 C131.67,829.79 133.25,804.38 133.50,800.00 C133.75,795.62 134.35,782.39 134.50,780.00 C134.65,777.61 135.15,772.66 135.30,771.30 C135.45,769.94 136.10,764.62 136.30,763.70 C136.50,762.78 137.46,759.98 137.70,760.30 C137.94,760.62 138.92,765.94 139.20,767.50 C139.48,769.06 140.78,776.67 141.10,779.00 C141.42,781.33 142.68,792.59 143.00,795.40 C143.32,798.21 144.58,810.30 144.90,812.70 C145.22,815.10 146.40,822.68 146.80,824.20 C147.20,825.73 149.22,830.31 149.70,831.00 C150.18,831.69 152.36,832.38 152.60,832.50 L152.60,833.30 Z" fill="#000" stroke="none" stroke-width="0" stroke-linejoin="round"/>
<path d="M119.90,833.30 L119.90,832.50 C120.23,831.98 123.20,827.69 123.80,826.20 C124.40,824.71 126.62,816.93 127.10,814.60 C127.57,812.27 129.13,800.87 129.50,798.30 C129.87,795.73 131.18,785.81 131.50,783.80 C131.82,781.79 133.10,775.24 133.40,774.20 C133.70,773.16 134.82,770.50 135.10,771.30 C135.38,772.10 136.49,781.16 136.75,783.80 C137.01,786.44 137.92,799.79 138.20,803.00 C138.48,806.21 139.74,819.84 140.10,822.30 C140.46,824.76 142.30,831.65 142.50,832.50 L142.50,833.30 Z" fill="#acacac" stroke="none" stroke-width="0" stroke-linejoin="round"/>
<line x1="118.7" y1="754.4" x2="235.6" y2="754.4" stroke="#c8c8c8" stroke-width="1"/>
<line x1="235.6" y1="754.4" x2="235.6" y2="833.3" stroke="#5a5a5a" stroke-width="1"/>
<line x1="118.7" y1="753.9" x2="118.7" y2="833.8" stroke="#444" stroke-width="1.1"/>
<line x1="118.7" y1="833.3" x2="236.1" y2="833.3" stroke="#333" stroke-width="1.1"/>
<text x="116.30" y="765.20" font-size="6.7" font-weight="normal" fill="#2a2a2a" text-anchor="end" textLength="13.60" lengthAdjust="spacingAndGlyphs">1000</text>
<line x1="117.2" y1="762.9" x2="118.7" y2="762.9" stroke="#444" stroke-width="0.8"/>
<text x="116.30" y="779.50" font-size="6.7" font-weight="normal" fill="#2a2a2a" text-anchor="end" textLength="10.20" lengthAdjust="spacingAndGlyphs">800</text>
<line x1="117.2" y1="777.2" x2="118.7" y2="777.2" stroke="#444" stroke-width="0.8"/>
<text x="116.30" y="794.00" font-size="6.7" font-weight="normal" fill="#2a2a2a" text-anchor="end" textLength="10.20" lengthAdjust="spacingAndGlyphs">600</text>
<line x1="117.2" y1="791.7" x2="118.7" y2="791.7" stroke="#444" stroke-width="0.8"/>
<text x="116.30" y="807.70" font-size="6.7" font-weight="normal" fill="#2a2a2a" text-anchor="end" textLength="10.20" lengthAdjust="spacingAndGlyphs">400</text>
<line x1="117.2" y1="805.4" x2="118.7" y2="805.4" stroke="#444" stroke-width="0.8"/>
<text x="116.30" y="822.30" font-size="6.7" font-weight="normal" fill="#2a2a2a" text-anchor="end" textLength="10.20" lengthAdjust="spacingAndGlyphs">200</text>
<line x1="117.2" y1="820.0" x2="118.7" y2="820.0" stroke="#444" stroke-width="0.8"/>
<text x="116.30" y="835.10" font-size="6.7" font-weight="normal" fill="#2a2a2a" text-anchor="end" textLength="3.40" lengthAdjust="spacingAndGlyphs">0</text>
<line x1="117.2" y1="832.8" x2="118.7" y2="832.8" stroke="#444" stroke-width="0.8"/>
<rect x="194.5" y="762.2" width="7.3" height="3.2" fill="#acacac" stroke="none" stroke-width="0"/>
<text x="204.9" y="765.9000000000001" font-size="5.4" font-weight="bold" text-anchor="start" fill="#222" >Isotype</text>
<rect x="194.5" y="769.9000000000001" width="7.3" height="3.5" fill="#000" stroke="none" stroke-width="0"/>
<text x="204.9" y="773.7" font-size="5.4" font-weight="bold" text-anchor="start" fill="#222" >p-STAT1</text>
<path d="M121.11,833.8v1.2 M123.78,833.8v1.2 M125.86,833.8v1.2 M127.55,833.8v1.2 M128.99,833.8v1.2 M130.23,833.8v1.2 M131.32,833.8v1.2 M132.30,833.8v1.8 M138.74,833.8v1.2 M142.51,833.8v1.2 M145.18,833.8v1.2 M147.26,833.8v1.2 M148.95,833.8v1.2 M150.39,833.8v1.2 M151.63,833.8v1.2 M152.72,833.8v1.2 M153.70,833.8v1.8 M160.14,833.8v1.2 M163.91,833.8v1.2 M166.58,833.8v1.2 M168.66,833.8v1.2 M170.35,833.8v1.2 M171.79,833.8v1.2 M173.03,833.8v1.2 M174.12,833.8v1.2 M175.10,833.8v1.8 M181.54,833.8v1.2 M185.31,833.8v1.2 M187.98,833.8v1.2 M190.06,833.8v1.2 M191.75,833.8v1.2 M193.19,833.8v1.2 M194.43,833.8v1.2 M195.52,833.8v1.2 M196.50,833.8v1.8 M202.94,833.8v1.2 M206.71,833.8v1.2 M209.38,833.8v1.2 M211.46,833.8v1.2 M213.15,833.8v1.2 M214.59,833.8v1.2 M215.83,833.8v1.2 M216.92,833.8v1.2 M217.90,833.8v1.8 M224.34,833.8v1.2 M228.11,833.8v1.2 M230.78,833.8v1.2 M232.86,833.8v1.2 M234.55,833.8v1.2" stroke="#666" stroke-width="0.6" fill="none"/>
<text x="127.59" y="842.0" font-size="5.6" font-weight="bold" fill="#222">10</text>
<text x="134.11" y="838.00" font-size="4.90" font-weight="bold" fill="#222">2</text>
<text x="148.99" y="842.0" font-size="5.6" font-weight="bold" fill="#222">10</text>
<text x="155.51" y="838.00" font-size="4.90" font-weight="bold" fill="#222">3</text>
<text x="170.39" y="842.0" font-size="5.6" font-weight="bold" fill="#222">10</text>
<text x="176.91" y="838.00" font-size="4.90" font-weight="bold" fill="#222">4</text>
<text x="191.79" y="842.0" font-size="5.6" font-weight="bold" fill="#222">10</text>
<text x="198.31" y="838.00" font-size="4.90" font-weight="bold" fill="#222">5</text>
<text x="213.19" y="842.0" font-size="5.6" font-weight="bold" fill="#222">10</text>
<text x="219.71" y="838.00" font-size="4.90" font-weight="bold" fill="#222">6</text>
<text transform="translate(95.0,796.5) rotate(-90)" font-size="10.3" font-weight="bold" text-anchor="middle">Count</text>
<line x1="118.3" y1="853.1" x2="222.9" y2="853.1" stroke="#333" stroke-width="1.3"/>
<path d="M222.4,850.7 L227.9,853.1 L222.4,855.5 Z" fill="#222"/>
<text x="165.4" y="868.7" font-size="12.0" font-weight="normal" text-anchor="middle" fill="#111" >p-STAT1</text>
<path d="M309.50,833.30 L309.50,832.80 C309.67,830.07 311.24,804.49 311.50,800.00 C311.76,795.51 312.43,781.70 312.60,778.90 C312.78,776.10 313.38,767.84 313.60,766.40 C313.82,764.96 314.97,761.60 315.20,761.60 C315.43,761.60 316.22,764.80 316.40,766.40 C316.58,768.00 317.23,778.39 317.40,780.80 C317.57,783.21 318.20,792.73 318.40,795.30 C318.60,797.87 319.53,809.12 319.80,811.60 C320.07,814.08 321.30,823.42 321.70,825.10 C322.10,826.78 324.20,831.16 324.60,831.80 C325.00,832.44 326.34,832.72 326.50,832.80 L326.50,833.30 Z" fill="#000" stroke="none" stroke-width="0" stroke-linejoin="round"/>
<path d="M299.60,833.30 L299.60,832.80 C299.84,832.40 302.10,829.52 302.50,828.00 C302.90,826.48 304.12,817.23 304.40,814.50 C304.68,811.77 305.66,798.51 305.90,795.30 C306.14,792.09 307.08,778.81 307.30,776.00 C307.52,773.19 308.32,763.12 308.50,761.60 C308.68,760.08 309.22,757.40 309.40,757.80 C309.58,758.20 310.52,764.07 310.70,766.40 C310.88,768.73 311.40,782.49 311.60,785.70 C311.80,788.91 312.82,801.86 313.10,804.90 C313.38,807.94 314.60,820.12 315.00,822.20 C315.40,824.28 317.34,829.02 317.90,829.90 C318.46,830.78 321.38,832.56 321.70,832.80 L321.70,833.30 Z" fill="#acacac" stroke="none" stroke-width="0" stroke-linejoin="round"/>
<line x1="258.9" y1="754.4" x2="376.2" y2="754.4" stroke="#c8c8c8" stroke-width="1"/>
<line x1="376.2" y1="754.4" x2="376.2" y2="833.3" stroke="#5a5a5a" stroke-width="1"/>
<line x1="258.9" y1="753.9" x2="258.9" y2="833.8" stroke="#444" stroke-width="1.1"/>
<line x1="258.9" y1="833.3" x2="376.7" y2="833.3" stroke="#333" stroke-width="1.1"/>
<text x="256.50" y="765.20" font-size="6.7" font-weight="normal" fill="#2a2a2a" text-anchor="end" textLength="13.60" lengthAdjust="spacingAndGlyphs">3000</text>
<line x1="257.4" y1="762.9" x2="258.9" y2="762.9" stroke="#444" stroke-width="0.8"/>
<text x="256.50" y="788.60" font-size="6.7" font-weight="normal" fill="#2a2a2a" text-anchor="end" textLength="13.60" lengthAdjust="spacingAndGlyphs">2000</text>
<line x1="257.4" y1="786.3" x2="258.9" y2="786.3" stroke="#444" stroke-width="0.8"/>
<text x="256.50" y="812.30" font-size="6.7" font-weight="normal" fill="#2a2a2a" text-anchor="end" textLength="13.60" lengthAdjust="spacingAndGlyphs">1000</text>
<line x1="257.4" y1="810.0" x2="258.9" y2="810.0" stroke="#444" stroke-width="0.8"/>
<text x="256.50" y="835.50" font-size="6.7" font-weight="normal" fill="#2a2a2a" text-anchor="end" textLength="3.40" lengthAdjust="spacingAndGlyphs">0</text>
<line x1="257.4" y1="833.2" x2="258.9" y2="833.2" stroke="#444" stroke-width="0.8"/>
<rect x="338.0" y="762.5" width="7.3" height="3.2" fill="#acacac" stroke="none" stroke-width="0"/>
<text x="348.4" y="766.2" font-size="5.4" font-weight="bold" text-anchor="start" fill="#222" >Isotype</text>
<rect x="338.0" y="770.2" width="7.3" height="3.5" fill="#000" stroke="none" stroke-width="0"/>
<text x="348.4" y="774.0" font-size="5.4" font-weight="bold" text-anchor="start" fill="#222" >p-STAT1</text>
<path d="M261.11,833.8v1.2 M263.78,833.8v1.2 M265.86,833.8v1.2 M267.55,833.8v1.2 M268.99,833.8v1.2 M270.23,833.8v1.2 M271.32,833.8v1.2 M272.30,833.8v1.8 M278.74,833.8v1.2 M282.51,833.8v1.2 M285.18,833.8v1.2 M287.26,833.8v1.2 M288.95,833.8v1.2 M290.39,833.8v1.2 M291.63,833.8v1.2 M292.72,833.8v1.2 M293.70,833.8v1.8 M300.14,833.8v1.2 M303.91,833.8v1.2 M306.58,833.8v1.2 M308.66,833.8v1.2 M310.35,833.8v1.2 M311.79,833.8v1.2 M313.03,833.8v1.2 M314.12,833.8v1.2 M315.10,833.8v1.8 M321.54,833.8v1.2 M325.31,833.8v1.2 M327.98,833.8v1.2 M330.06,833.8v1.2 M331.75,833.8v1.2 M333.19,833.8v1.2 M334.43,833.8v1.2 M335.52,833.8v1.2 M336.50,833.8v1.8 M342.94,833.8v1.2 M346.71,833.8v1.2 M349.38,833.8v1.2 M351.46,833.8v1.2 M353.15,833.8v1.2 M354.59,833.8v1.2 M355.83,833.8v1.2 M356.92,833.8v1.2 M357.90,833.8v1.8 M364.34,833.8v1.2 M368.11,833.8v1.2 M370.78,833.8v1.2 M372.86,833.8v1.2 M374.55,833.8v1.2" stroke="#666" stroke-width="0.6" fill="none"/>
<text x="267.59" y="842.5" font-size="5.6" font-weight="bold" fill="#222">10</text>
<text x="274.11" y="838.50" font-size="4.90" font-weight="bold" fill="#222">2</text>
<text x="288.99" y="842.5" font-size="5.6" font-weight="bold" fill="#222">10</text>
<text x="295.51" y="838.50" font-size="4.90" font-weight="bold" fill="#222">3</text>
<text x="310.39" y="842.5" font-size="5.6" font-weight="bold" fill="#222">10</text>
<text x="316.91" y="838.50" font-size="4.90" font-weight="bold" fill="#222">4</text>
<text x="331.79" y="842.5" font-size="5.6" font-weight="bold" fill="#222">10</text>
<text x="338.31" y="838.50" font-size="4.90" font-weight="bold" fill="#222">5</text>
<text x="353.19" y="842.5" font-size="5.6" font-weight="bold" fill="#222">10</text>
<text x="359.71" y="838.50" font-size="4.90" font-weight="bold" fill="#222">6</text>
<path d="M451.00,833.30 L451.00,832.80 C451.08,831.57 451.87,819.92 452.00,818.00 C452.13,816.08 452.51,811.19 452.60,809.70 C452.69,808.21 452.94,801.54 453.10,800.10 C453.26,798.66 454.26,794.01 454.50,792.40 C454.74,790.79 455.76,782.81 456.00,780.80 C456.24,778.79 457.17,769.97 457.40,768.30 C457.63,766.62 458.56,761.50 458.80,760.70 C459.04,759.90 460.06,758.62 460.30,758.70 C460.54,758.78 461.50,760.16 461.70,761.60 C461.90,763.04 462.50,773.19 462.70,776.00 C462.90,778.81 463.86,792.33 464.10,795.30 C464.34,798.27 465.32,809.12 465.60,811.60 C465.88,814.08 467.10,823.42 467.50,825.10 C467.90,826.78 470.00,831.16 470.40,831.80 C470.80,832.44 472.14,832.72 472.30,832.80 L472.30,833.30 Z" fill="#000" stroke="none" stroke-width="0" stroke-linejoin="round"/>
<path d="M439.10,833.30 L439.10,832.80 C439.27,832.32 440.78,828.52 441.10,827.00 C441.43,825.48 442.73,816.74 443.00,814.50 C443.27,812.26 444.16,802.50 444.40,800.10 C444.64,797.70 445.66,787.78 445.90,785.70 C446.14,783.62 447.10,776.11 447.30,775.10 C447.50,774.09 448.10,772.72 448.30,773.60 C448.50,774.48 449.46,783.49 449.70,785.70 C449.94,787.91 450.96,797.70 451.20,800.10 C451.44,802.50 452.28,812.26 452.60,814.50 C452.92,816.74 454.56,825.48 455.00,827.00 C455.44,828.52 457.66,832.32 457.90,832.80 L457.90,833.30 Z" fill="#acacac" stroke="none" stroke-width="0" stroke-linejoin="round"/>
<line x1="398.9" y1="754.4" x2="516.2" y2="754.4" stroke="#c8c8c8" stroke-width="1"/>
<line x1="516.2" y1="754.4" x2="516.2" y2="833.3" stroke="#5a5a5a" stroke-width="1"/>
<line x1="398.9" y1="753.9" x2="398.9" y2="833.8" stroke="#444" stroke-width="1.1"/>
<line x1="398.9" y1="833.3" x2="516.7" y2="833.3" stroke="#333" stroke-width="1.1"/>
<text x="396.50" y="757.10" font-size="6.7" font-weight="normal" fill="#2a2a2a" text-anchor="end" textLength="10.20" lengthAdjust="spacingAndGlyphs">400</text>
<line x1="397.4" y1="754.8" x2="398.9" y2="754.8" stroke="#444" stroke-width="0.8"/>
<text x="396.50" y="776.80" font-size="6.7" font-weight="normal" fill="#2a2a2a" text-anchor="end" textLength="10.20" lengthAdjust="spacingAndGlyphs">300</text>
<line x1="397.4" y1="774.5" x2="398.9" y2="774.5" stroke="#444" stroke-width="0.8"/>
<text x="396.50" y="796.10" font-size="6.7" font-weight="normal" fill="#2a2a2a" text-anchor="end" textLength="10.20" lengthAdjust="spacingAndGlyphs">200</text>
<line x1="397.4" y1="793.8" x2="398.9" y2="793.8" stroke="#444" stroke-width="0.8"/>
<text x="396.50" y="815.80" font-size="6.7" font-weight="normal" fill="#2a2a2a" text-anchor="end" textLength="10.20" lengthAdjust="spacingAndGlyphs">100</text>
<line x1="397.4" y1="813.5" x2="398.9" y2="813.5" stroke="#444" stroke-width="0.8"/>
<text x="396.50" y="835.10" font-size="6.7" font-weight="normal" fill="#2a2a2a" text-anchor="end" textLength="3.40" lengthAdjust="spacingAndGlyphs">0</text>
<line x1="397.4" y1="832.8" x2="398.9" y2="832.8" stroke="#444" stroke-width="0.8"/>
<rect x="476.1" y="762.2" width="7.3" height="3.2" fill="#acacac" stroke="none" stroke-width="0"/>
<text x="486.5" y="765.9000000000001" font-size="5.4" font-weight="bold" text-anchor="start" fill="#222" >Isotype</text>
<rect x="476.1" y="769.9000000000001" width="7.3" height="3.5" fill="#000" stroke="none" stroke-width="0"/>
<text x="486.5" y="773.7" font-size="5.4" font-weight="bold" text-anchor="start" fill="#222" >p-STAT1</text>
<path d="M401.11,833.8v1.2 M403.78,833.8v1.2 M405.86,833.8v1.2 M407.55,833.8v1.2 M408.99,833.8v1.2 M410.23,833.8v1.2 M411.32,833.8v1.2 M412.30,833.8v1.8 M418.74,833.8v1.2 M422.51,833.8v1.2 M425.18,833.8v1.2 M427.26,833.8v1.2 M428.95,833.8v1.2 M430.39,833.8v1.2 M431.63,833.8v1.2 M432.72,833.8v1.2 M433.70,833.8v1.8 M440.14,833.8v1.2 M443.91,833.8v1.2 M446.58,833.8v1.2 M448.66,833.8v1.2 M450.35,833.8v1.2 M451.79,833.8v1.2 M453.03,833.8v1.2 M454.12,833.8v1.2 M455.10,833.8v1.8 M461.54,833.8v1.2 M465.31,833.8v1.2 M467.98,833.8v1.2 M470.06,833.8v1.2 M471.75,833.8v1.2 M473.19,833.8v1.2 M474.43,833.8v1.2 M475.52,833.8v1.2 M476.50,833.8v1.8 M482.94,833.8v1.2 M486.71,833.8v1.2 M489.38,833.8v1.2 M491.46,833.8v1.2 M493.15,833.8v1.2 M494.59,833.8v1.2 M495.83,833.8v1.2 M496.92,833.8v1.2 M497.90,833.8v1.8 M504.34,833.8v1.2 M508.11,833.8v1.2 M510.78,833.8v1.2 M512.86,833.8v1.2 M514.55,833.8v1.2" stroke="#666" stroke-width="0.6" fill="none"/>
<text x="407.59" y="842.5" font-size="5.6" font-weight="bold" fill="#222">10</text>
<text x="414.11" y="838.50" font-size="4.90" font-weight="bold" fill="#222">2</text>
<text x="428.99" y="842.5" font-size="5.6" font-weight="bold" fill="#222">10</text>
<text x="435.51" y="838.50" font-size="4.90" font-weight="bold" fill="#222">3</text>
<text x="450.39" y="842.5" font-size="5.6" font-weight="bold" fill="#222">10</text>
<text x="456.91" y="838.50" font-size="4.90" font-weight="bold" fill="#222">4</text>
<text x="471.79" y="842.5" font-size="5.6" font-weight="bold" fill="#222">10</text>
<text x="478.31" y="838.50" font-size="4.90" font-weight="bold" fill="#222">5</text>
<text x="493.19" y="842.5" font-size="5.6" font-weight="bold" fill="#222">10</text>
<text x="499.71" y="838.50" font-size="4.90" font-weight="bold" fill="#222">6</text>
</svg>
</body></html>
